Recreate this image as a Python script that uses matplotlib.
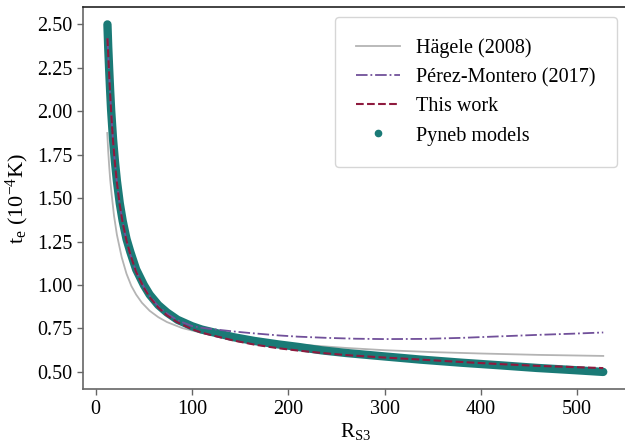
import matplotlib
matplotlib.use("Agg")
import matplotlib.pyplot as plt
from matplotlib.lines import Line2D

plt.rcParams.update({
    'font.family': 'serif',
    'font.serif': ['Liberation Serif', 'DejaVu Serif'],
    'font.size': 14.5,
    'mathtext.fontset': 'custom',
    'mathtext.rm': 'Liberation Serif',
    'mathtext.it': 'Liberation Serif:italic',
    'axes.labelsize': 15,
    'xtick.labelsize': 14.5,
    'ytick.labelsize': 14.5,
    'legend.fontsize': 14.5,
})

# Pyneb models
x_pyneb = [12.2, 13, 14, 15, 16, 18, 20, 22, 25, 28, 32, 36, 42, 50, 56, 65, 74, 85,
           100, 110, 125, 143, 165, 190, 210, 235, 260, 290, 337, 380, 420, 458, 495, 527]
y_pyneb = [2.50, 2.37, 2.24, 2.12, 2.01, 1.84, 1.71, 1.60, 1.47, 1.37, 1.265, 1.19, 1.09,
           1.00, 0.945, 0.885, 0.842, 0.800, 0.763, 0.744, 0.724, 0.700, 0.678, 0.658,
           0.644, 0.624, 0.609, 0.594, 0.571, 0.553, 0.538, 0.523, 0.511, 0.500]

# This work fit
x_fit = x_pyneb
y_fit = [2.42, 2.33, 2.21, 2.10, 2.00, 1.83, 1.70, 1.59, 1.46, 1.36, 1.255, 1.175, 1.075,
         0.985, 0.930, 0.870, 0.825, 0.785, 0.746, 0.726, 0.705, 0.681, 0.657, 0.636,
         0.623, 0.609, 0.597, 0.586, 0.571, 0.557, 0.545, 0.535, 0.528, 0.522]

# Hagele (2008)
x_hag = [12.0, 13, 14, 15, 16.6, 19, 22, 27, 32, 37, 42, 48, 56, 65, 74, 90, 108, 130,
         160, 212, 260, 300, 350, 400, 460, 527]
y_hag = [1.875, 1.77, 1.685, 1.61, 1.52, 1.40, 1.29, 1.16, 1.065, 0.995, 0.945, 0.898,
         0.852, 0.815, 0.787, 0.752, 0.728, 0.706, 0.684, 0.657, 0.638, 0.625, 0.614,
         0.606, 0.598, 0.592]

# Perez-Montero (2017)
x_pm = [12.2, 13, 14, 15, 16, 18, 20, 22, 25, 28, 32, 36, 42, 50, 56, 65, 74, 85,
        100, 110, 125, 143, 160, 190, 210, 240, 270, 300, 340, 380, 412, 458, 495, 527]
y_pm = [2.42, 2.33, 2.21, 2.10, 2.00, 1.83, 1.70, 1.59, 1.46, 1.36, 1.255, 1.175, 1.078,
        0.99, 0.937, 0.878, 0.836, 0.797, 0.764, 0.754, 0.744, 0.733, 0.724, 0.710,
        0.703, 0.696, 0.691, 0.689, 0.690, 0.696, 0.703, 0.713, 0.720, 0.727]

teal = '#1a7a76'
maroon = '#8e1a3e'
purple = '#71509a'
grey = '#b4b4b4'

fig = plt.figure(figsize=(6.25, 4.44), dpi=100)
ax = fig.add_axes([0.1323, 0.1232, 0.8725, 0.861])

ax.plot(x_hag, y_hag, color=grey, lw=1.3, zorder=2)
ax.plot(x_pyneb, y_pyneb, color=teal, lw=6, solid_capstyle='round', zorder=3)
ax.plot(x_pm, y_pm, color=purple, lw=1.3, ls='-.', zorder=4)
ax.plot(x_fit, y_fit, color=maroon, lw=1.5, ls='--', zorder=5)

ax.set_xlim(-13.5, 552.7)
ax.set_ylim(0.40, 2.60)
ax.set_xticks([0, 100, 200, 300, 400, 500])
ax.set_yticks([0.5, 0.75, 1.0, 1.25, 1.5, 1.75, 2.0, 2.25, 2.5])
ax.yaxis.set_major_formatter(matplotlib.ticker.FormatStrFormatter('%.2f'))

ax.set_xlabel(r'$\mathrm{R_{S3}}$', labelpad=2)
ax.set_ylabel(r'$\mathrm{t_e}$ (10$^{-4}$K)', fontsize=16, labelpad=4)

for side in ['left', 'bottom']:
    ax.spines[side].set_color('#666666')
    ax.spines[side].set_linewidth(1.2)
ax.spines['top'].set_color('#222222')
ax.spines['top'].set_linewidth(1.2)
ax.tick_params(colors='#666666', labelcolor='black', length=4, width=1)

handles = [
    Line2D([], [], color=grey, lw=1.3),
    Line2D([], [], color=purple, lw=1.3, ls='-.'),
    Line2D([], [], color=maroon, lw=1.5, ls='--'),
    Line2D([], [], color=teal, lw=0, marker='o', ms=4.5),
]
labels = ['Hägele (2008)', 'Pérez-Montero (2017)', 'This work', 'Pyneb models']
ax.legend(handles, labels, loc='upper right', bbox_to_anchor=(617 / 625, 1 - 17 / 444),
          bbox_transform=fig.transFigure, borderaxespad=0, borderpad=1.05,
          handlelength=2.2, labelspacing=0.5)

fig.savefig('out.png', dpi=100)
